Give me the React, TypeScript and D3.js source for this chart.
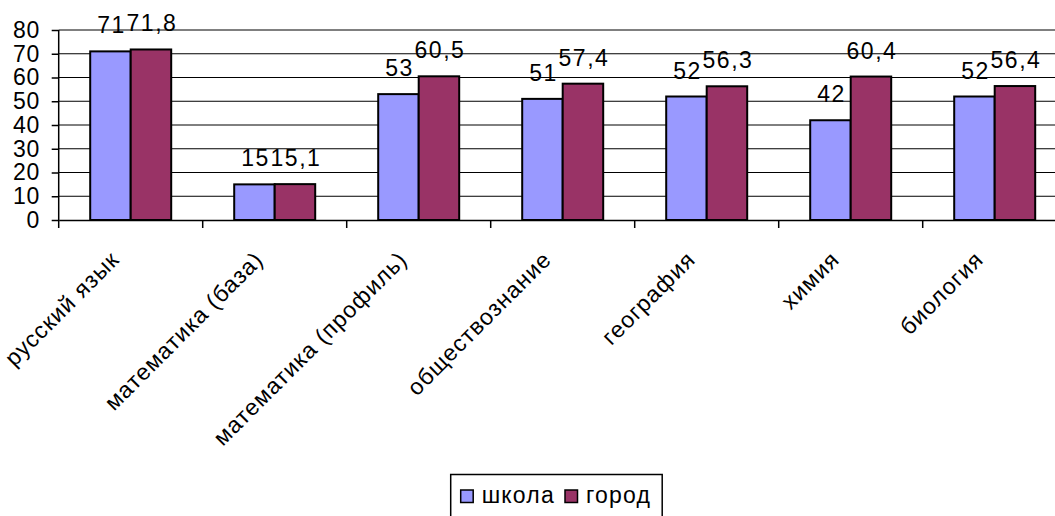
import React, { useEffect, useRef } from 'react';
import * as d3 from 'd3';

const subjects = [
  'русский язык',
  'математика (база)',
  'математика (профиль)',
  'обществознание',
  'география',
  'химия',
  'биология',
];
const series = ['школа', 'город'];
const schoolValues = [71, 15, 53, 51, 52, 42, 52];
const cityValues = [71.8, 15.1, 60.5, 57.4, 56.3, 60.4, 56.4];
const yTicks = [0, 10, 20, 30, 40, 50, 60, 70, 80];
const colors = ['#9999FF', '#993366'];

const W = 1055;
const H = 516;
const left = 58.7;
const bandW = 144;
const top = 30;
const bottom = 220;
const font = 'Arial, "Liberation Sans", sans-serif';
const fs = '23px';

const fmt = (v: number) => String(v).replace('.', ',');

export default function App() {
  const ref = useRef<SVGSVGElement>(null);

  useEffect(() => {
    const svg = d3.select(ref.current);
    svg.selectAll('*').remove();

    const x0 = d3.scaleBand().domain(subjects).range([left, left + bandW * subjects.length]).paddingInner(0).paddingOuter(0);
    const barW = 40.5;
    const x1 = d3.scaleBand().domain(series).range([0, barW * 2]);
    const groupOff = (x0.bandwidth() - barW * 2) / 2;
    const y = d3.scaleLinear().domain([0, 80]).range([bottom, top]);

    // gridlines
    svg.append('g')
      .selectAll('line')
      .data(yTicks.filter(t => t > 0))
      .enter()
      .append('line')
      .attr('x1', left)
      .attr('x2', W + 20)
      .attr('y1', d => y(d))
      .attr('y2', d => y(d))
      .attr('stroke', '#000')
      .attr('stroke-width', 1);

    // y axis
    const yAxis = d3.axisLeft(y).tickValues(yTicks).tickSize(7).tickFormat(d => String(d));
    const yg = svg.append('g').attr('transform', `translate(${left},0)`).call(yAxis);
    yg.select('.domain').attr('stroke', '#000').attr('stroke-width', 1.5).attr('d', `M-0,${top}V${bottom}`);
    yg.selectAll('line').attr('stroke', '#000').attr('stroke-width', 1.5);
    yg.selectAll('text')
      .attr('x', -19)
      .attr('dy', '0.32em')
      .style('font-family', font)
      .style('font-size', fs)
      .style('letter-spacing', '0.5px')
      .attr('fill', '#000');

    // bars
    const rows = subjects.map((s, i) => ({ name: s, values: [schoolValues[i], cityValues[i]] }));
    const groups = svg.append('g')
      .selectAll('g')
      .data(rows)
      .enter()
      .append('g')
      .attr('transform', d => `translate(${(x0(d.name) as number) + groupOff},0)`);

    groups.selectAll('rect')
      .data(d => d.values.map((v, k) => ({ key: series[k], value: v, k })))
      .enter()
      .append('rect')
      .attr('x', d => x1(d.key) as number)
      .attr('y', d => y(d.value))
      .attr('width', x1.bandwidth())
      .attr('height', d => bottom - y(d.value))
      .attr('fill', d => colors[d.k])
      .attr('stroke', '#000')
      .attr('stroke-width', 2);

    groups.selectAll('text')
      .data(d => d.values.map((v, k) => ({ key: series[k], value: v })))
      .enter()
      .append('text')
      .attr('x', d => (x1(d.key) as number) + x1.bandwidth() / 2 + 1)
      .attr('y', d => y(d.value) - 18)
      .attr('text-anchor', 'middle')
      .style('font-family', font)
      .style('font-size', fs)
      .style('letter-spacing', '1.5px')
      .attr('fill', '#000')
      .text(d => fmt(d.value));

    // x axis
    const xAxis = d3.axisBottom(x0).tickSize(0).tickFormat(() => '');
    const xg = svg.append('g').attr('transform', `translate(0,${bottom})`).call(xAxis);
    xg.select('.domain').attr('stroke', '#000').attr('stroke-width', 1.5);
    xg.selectAll('.tick').remove();

    const boundaries = d3.range(subjects.length + 1).map(i => left + i * x0.step());
    svg.append('g')
      .selectAll('line')
      .data(boundaries)
      .enter()
      .append('line')
      .attr('x1', d => d)
      .attr('x2', d => d)
      .attr('y1', bottom)
      .attr('y2', bottom + 8)
      .attr('stroke', '#000')
      .attr('stroke-width', 1.5);

    svg.append('g')
      .selectAll('text')
      .data(subjects)
      .enter()
      .append('text')
      .attr('transform', d => `translate(${(x0(d) as number) + x0.bandwidth() / 2 - 10},${bottom + 41}) rotate(-45)`)
      .attr('text-anchor', 'end')
      .style('font-family', font)
      .style('font-size', fs)
      .style('letter-spacing', '1px')
      .attr('fill', '#000')
      .text(d => d);

    // legend
    const lg = svg.append('g');
    lg.append('rect')
      .attr('x', 450.7)
      .attr('y', 474.5)
      .attr('width', 211.5)
      .attr('height', 60)
      .attr('fill', '#fff')
      .attr('stroke', '#000')
      .attr('stroke-width', 1.5);
    const legendX = [460.7, 565];
    series.forEach((s, i) => {
      lg.append('rect')
        .attr('x', legendX[i])
        .attr('y', 490)
        .attr('width', 12.5)
        .attr('height', 12.5)
        .attr('fill', colors[i])
        .attr('stroke', '#000')
        .attr('stroke-width', 1.5);
      lg.append('text')
        .attr('x', legendX[i] + 21)
        .attr('y', 503)
        .style('font-family', font)
        .style('font-size', fs)
        .style('letter-spacing', '1.2px')
        .attr('fill', '#000')
        .text(s);
    });
  }, []);

  return (
    <svg
      ref={ref}
      width={W}
      height={H}
      style={{ position: 'absolute', left: 0, top: 0, background: '#fff' }}
    />
  );
}
